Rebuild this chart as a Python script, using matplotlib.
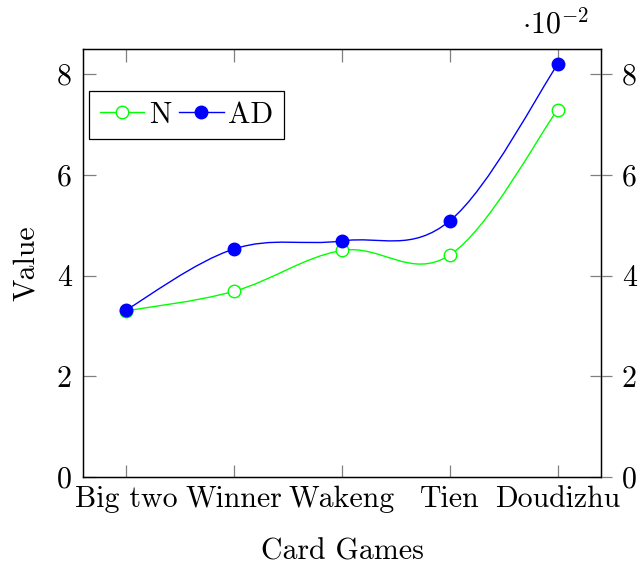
import numpy as np
import matplotlib
matplotlib.use('Agg')
import matplotlib.pyplot as plt
from matplotlib.path import Path
from matplotlib.patches import PathPatch

plt.rcParams['font.family'] = 'serif'
plt.rcParams['font.serif'] = ['cmr10']
plt.rcParams['mathtext.fontset'] = 'cm'
plt.rcParams['axes.unicode_minus'] = False

games = ['Big two', 'Winner', 'Wakeng', 'Tien', 'Doudizhu']
n_vals = [0.033, 0.0369, 0.045, 0.0441, 0.073]
ad_vals = [0.0332, 0.0453, 0.0469, 0.0509, 0.082]
scale = 1e-2
FS = 21.5


def smooth_path(xs, ys, k=0.18):
    # cubic bezier through the points, tangent from neighbours
    pts = np.column_stack([xs, ys]).astype(float)
    n = len(pts)
    verts = [pts[0]]
    codes = [Path.MOVETO]
    for i in range(n - 1):
        p_prev = pts[max(i - 1, 0)]
        p0 = pts[i]
        p1 = pts[i + 1]
        p_next = pts[min(i + 2, n - 1)]
        c1 = p0 + k * (p1 - p_prev)
        c2 = p1 - k * (p_next - p0)
        verts += [c1, c2, p1]
        codes += [Path.CURVE4] * 3
    return Path(verts, codes)


fig = plt.figure(figsize=(6.41, 5.69), dpi=100)
ax = fig.add_axes([0.1295, 0.1617, 0.808, 0.752])

x = np.arange(len(games))
n_y = np.array(n_vals) / scale
ad_y = np.array(ad_vals) / scale

ax.add_patch(PathPatch(smooth_path(x, n_y), fill=False, color='#00ff00', lw=1.0))
ax.add_patch(PathPatch(smooth_path(x, ad_y), fill=False, color='#0000ff', lw=1.0))
ax.plot(x, n_y, ls='none', marker='o', ms=9, mfc='white', mec='#00ff00', mew=1.0)
ax.plot(x, ad_y, ls='none', marker='o', ms=9, mfc='#0000ff', mec='#0000ff')

# legend handles with line + marker
h_n, = ax.plot([], [], color='#00ff00', lw=1.0, marker='o', ms=9, mfc='white', mec='#00ff00')
h_ad, = ax.plot([], [], color='#0000ff', lw=1.0, marker='o', ms=9, mfc='#0000ff', mec='#0000ff')
leg = ax.legend([h_n, h_ad], ['N', 'AD'], ncol=2, loc='upper left',
                bbox_to_anchor=(0.012, 0.902), fontsize=FS, frameon=True,
                fancybox=False, framealpha=1, edgecolor='black',
                handlelength=1.5, handletextpad=0.15, columnspacing=0.25,
                borderpad=0.35, borderaxespad=0)
leg.get_frame().set_linewidth(0.9)

ax.set_xlim(-0.4, 4.4)
ax.set_ylim(0, 8.5)
ax.set_xticks(x)
ax.set_xticklabels(games)
ax.set_yticks([0, 2, 4, 6, 8])
ax.tick_params(axis='both', direction='in', length=9, width=0.9, color='#808080',
               labelsize=FS, top=True, pad=8)
ax.tick_params(axis='x', pad=6)
ax.tick_params(axis='y', right=False)
for s in ax.spines.values():
    s.set_linewidth(1.0)

ax2 = ax.twinx()
ax2.set_ylim(ax.get_ylim())
ax2.set_yticks([0, 2, 4, 6, 8])
ax2.tick_params(axis='y', direction='inout', length=16, width=0.9, color='#808080',
                labelsize=FS, pad=7)

ax.set_xlabel('Card Games', fontsize=FS, labelpad=18)
ax.set_ylabel('Value', fontsize=FS, labelpad=12)
fig.text(0.866, 0.942, r'$\cdot 10^{-2}$', fontsize=FS, ha='center', va='baseline')

fig.savefig('out.png', dpi=100)
